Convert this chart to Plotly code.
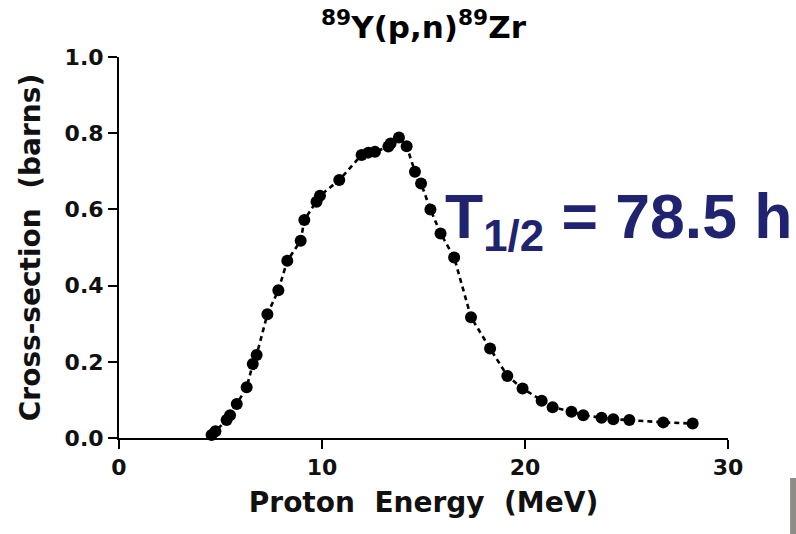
import plotly.graph_objects as go

energy = [4.56, 4.75, 5.30, 5.47, 5.80, 6.29, 6.59, 6.78, 7.31, 7.85, 8.29, 8.95, 9.13,
          9.73, 9.90, 10.85, 11.95, 12.28, 12.61, 13.27, 13.38, 13.79, 14.17, 14.58, 14.88,
          15.34, 15.84, 16.51, 17.34, 18.28, 19.13, 19.88, 20.82, 21.36, 22.29, 22.87,
          23.77, 24.35, 25.14, 26.81, 28.26]
xsec = [0.008, 0.018, 0.047, 0.060, 0.089, 0.133, 0.194, 0.218, 0.325, 0.388, 0.465, 0.518, 0.572,
        0.620, 0.636, 0.677, 0.743, 0.749, 0.751, 0.765, 0.773, 0.789, 0.766, 0.699, 0.668,
        0.600, 0.537, 0.474, 0.317, 0.235, 0.163, 0.130, 0.098, 0.081, 0.069, 0.060,
        0.053, 0.049, 0.047, 0.041, 0.038]

x_ticks = [0, 10, 20, 30]
y_ticks = [0.0, 0.2, 0.4, 0.6, 0.8, 1.0]
y_tick_labels = ["0.0", "0.2", "0.4", "0.6", "0.8", "1.0"]

WIDE = "DejaVu Sans, Liberation Sans, sans-serif"
ARIAL = "Liberation Sans, Arial, sans-serif"

fig = go.Figure()
fig.add_trace(go.Scatter(
    x=energy, y=xsec, mode="lines+markers",
    line=dict(color="black", width=2.6, dash="5px,4px"),
    marker=dict(color="black", size=12),
    cliponaxis=False, showlegend=False,
))

fig.update_layout(
    width=796, height=534,
    margin=dict(l=119, r=68, t=57, b=96),
    paper_bgcolor="white", plot_bgcolor="white",
    font=dict(family=WIDE, color="black"),
    xaxis=dict(
        range=[0, 30], tickvals=x_ticks, ticktext=[str(v) for v in x_ticks],
        showgrid=False, zeroline=False, showline=True, linecolor="black", linewidth=2,
        ticks="outside", ticklen=9, tickwidth=2, tickcolor="black",
        tickfont=dict(family=WIDE, size=22, weight="bold", color="#111"),
        title=dict(text="Proton  Energy  (MeV)", standoff=13,
                   font=dict(family=WIDE, size=28, weight="bold", color="#111")),
    ),
    yaxis=dict(
        range=[0, 1.0], tickvals=y_ticks, ticktext=y_tick_labels,
        showgrid=False, zeroline=False, showline=True, linecolor="black", linewidth=2,
        ticks="outside", ticklen=9, tickwidth=2, tickcolor="black",
        tickfont=dict(family=WIDE, size=22, weight="bold", color="#111"),
        title=dict(text="Cross-section  (barns)", standoff=16,
                   font=dict(family=WIDE, size=28, weight="bold", color="#111")),
    ),
)

fig.add_annotation(
    text="<b><sup>89</sup>Y(p,n)<sup>89</sup>Zr</b>",
    xref="paper", yref="paper", x=0.5, y=1.084, xanchor="center", yanchor="middle",
    showarrow=False, font=dict(family=WIDE, size=31, color="black"),
)
fig.add_annotation(
    text="<b>T<sub>1/2</sub> = 78.5 h</b>",
    xref="paper", yref="paper", x=0.532, y=0.57, xanchor="left", yanchor="middle",
    showarrow=False, font=dict(family=ARIAL, size=62.5, color="#1f2370"),
)
fig.add_shape(
    type="rect", xref="paper", yref="paper",
    x0=1.102, x1=1.112, y0=-0.252, y1=-0.105,
    fillcolor="#8f8b85", line=dict(width=0),
)

fig.write_html("out.html")
